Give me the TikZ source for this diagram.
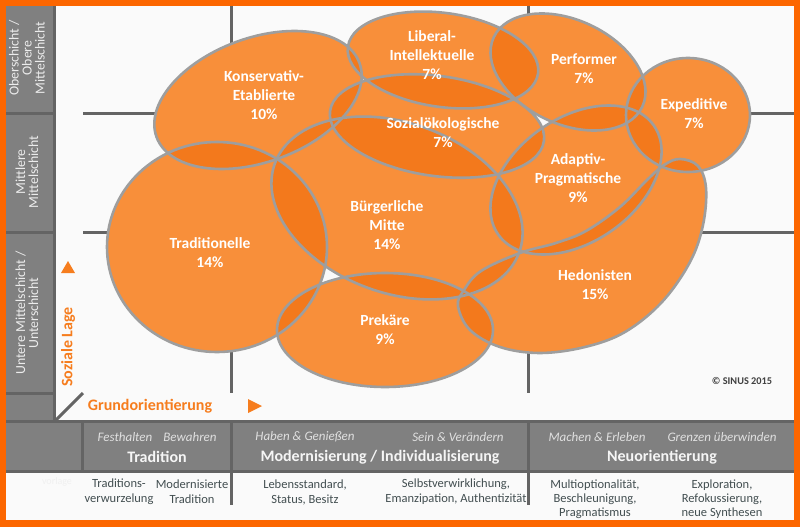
\documentclass[tikz,border=0pt]{standalone}
\usepackage{fontspec}
\setmainfont{Carlito}
\definecolor{frameor}{RGB}{252,102,0}
\definecolor{bgw}{RGB}{250,250,250}
\definecolor{colgray}{RGB}{128,128,128}
\definecolor{sepgray}{RGB}{100,100,100}
\definecolor{lightor}{RGB}{248,143,58}
\definecolor{darkor}{RGB}{243,121,28}
\definecolor{bordergray}{RGB}{158,158,158}
\definecolor{txtor}{RGB}{246,125,30}
\definecolor{striptxt}{RGB}{66,78,80}
\definecolor{colltxt}{RGB}{236,236,236}
\def\pKE{(258,100) ellipse [x radius=108pt, y radius=62pt, rotate=20]}
\def\pLI{(443,60) ellipse [x radius=96pt, y radius=47pt, rotate=-8]}
\def\pSO{(437,126) ellipse [x radius=108pt, y radius=50pt, rotate=-8]}
\def\pP{(568,72) ellipse [x radius=82pt, y radius=52pt, rotate=-25]}
\def\pE{(688,115) ellipse [x radius=62pt, y radius=57pt]}
\def\pAP{(576,180) ellipse [x radius=95pt, y radius=62pt, rotate=35]}
\def\pBM{(397,208) ellipse [x radius=130pt, y radius=85pt, rotate=-20]}
\def\pT{(217,247) ellipse [x radius=110pt, y radius=105pt]}
\def\pPk{(385,330) ellipse [x radius=108pt, y radius=57pt]}
\def\pH{plot[smooth cycle, tension=0.6] coordinates {(458,306) (464,290) (481,271) (520,253) (556,243) (586,231) (620,207) (647,180) (664,165) (680,159) (698,166) (706,188) (703,225) (690,262) (662,302) (625,332) (585,347) (540,353) (500,347) (470,330)}}
\newcommand\lens[2]{\begin{scope}\clip #1; \fill[darkor] #2;\end{scope}}
\begin{document}
\begin{tikzpicture}[x=1pt,y=-1pt,
  sep/.style={draw=sepgray,line width=3pt},
  gridl/.style={draw=sepgray,line width=3pt},
  lbl/.style={text=white,font=\bfseries\fontsize{15.5}{19}\selectfont,align=center,inner sep=0pt},
  colt/.style={text=colltxt,font=\fontsize{13.8}{13}\selectfont,align=center,inner sep=0pt,rotate=90},
  bandit/.style={text=black!12,font=\itshape\fontsize{13}{14}\selectfont,inner sep=0pt},
  bandtt/.style={text=white!96!black,font=\bfseries\fontsize{16}{17}\selectfont,inner sep=0pt},
  stript/.style={text=striptxt,font=\fontsize{12.5}{15}\selectfont,align=center,inner sep=0pt},
  stripth/.style={stript,font=\fontsize{12.5}{14.2}\selectfont},
  axist/.style={text=txtor,font=\bfseries\fontsize{16}{17}\selectfont,inner sep=0pt}]
\useasboundingbox (0,0) rectangle (800,527);
\fill[frameor] (0,0) rectangle (800,527);
\fill[bgw] (6,6) rectangle (794,520);
% left column and band
\fill[colgray] (6,6) rectangle (54,421);
\fill[colgray] (6,421) rectangle (794,471);
\draw[sep] (6,113) -- (54,113) (6,232) -- (54,232) (6,393) -- (54,393);
\draw[sep] (54,6) -- (54,421);
\draw[sep] (6,421) -- (794,421) (6,471) -- (794,471);
\draw[sep] (82,421) -- (82,471) (231,421) -- (231,505) (528,421) -- (528,505);
% grid
\draw[gridl] (231,6) -- (231,393) (528,6) -- (528,393) (83,113) -- (794,113) (83,232) -- (794,232);
\draw[gridl] (55,421) -- (83,393);
% milieus
\fill[lightor] \pKE; \fill[lightor] \pLI; \fill[lightor] \pSO; \fill[lightor] \pP;
\fill[lightor] \pE; \fill[lightor] \pAP; \fill[lightor] \pBM; \fill[lightor] \pT;
\fill[lightor] \pPk; \fill[lightor] \pH;
\lens{\pKE}{\pLI}\lens{\pKE}{\pSO}\lens{\pKE}{\pBM}\lens{\pKE}{\pT}
\lens{\pLI}{\pSO}\lens{\pLI}{\pP}\lens{\pSO}{\pP}\lens{\pSO}{\pAP}\lens{\pSO}{\pBM}
\lens{\pP}{\pE}\lens{\pP}{\pAP}\lens{\pE}{\pAP}\lens{\pE}{\pH}
\lens{\pAP}{\pBM}\lens{\pAP}{\pH}\lens{\pBM}{\pT}\lens{\pBM}{\pPk}\lens{\pBM}{\pH}
\lens{\pT}{\pPk}\lens{\pPk}{\pH}
\begin{scope}[draw=bordergray,line width=2.6pt]
\draw \pKE; \draw \pLI; \draw \pSO; \draw \pP; \draw \pE;
\draw \pAP; \draw \pBM; \draw \pT; \draw \pPk; \draw \pH;
\end{scope}
% milieu labels
\node[lbl] (ke) at (264,95) {Konservativ-\\Etablierte\\10\%};
\node[lbl] (li) at (432,55) {Liberal-\\Intellektuelle\\7\%};
\node[lbl] (pf) at (584,69) {Performer\\7\%};
\node[lbl] (ex) at (694,114) {Expeditive\\7\%};
\node[lbl] (so) at (443,133) {Sozialökologische\\7\%};
\node[lbl] (ap) at (578,178) {Adaptiv-\\Pragmatische\\9\%};
\node[lbl] (bm) at (387,225) {Bürgerliche\\Mitte\\14\%};
\node[lbl] (tr) at (210,253) {Traditionelle\\14\%};
\node[lbl] (pk) at (385,330) {Prekäre\\9\%};
\node[lbl] (he) at (595,285) {Hedonisten\\15\%};
\node[text=black!75,font=\bfseries\fontsize{10.3}{12}\selectfont,inner sep=0pt] (cr) at (742,381) {© SINUS 2015};
% left column texts
\node[colt] (c1) at (27,58) {Oberschicht /\\Obere\\Mittelschicht};
\node[colt] (c2) at (27,172) {Mittlere\\Mittelschicht};
\node[colt] (c3) at (27,313) {Untere Mittelschicht /\\Unterschicht};
% axes
\fill[txtor] (61,273) -- (75,273) -- (68,261) -- cycle;
\fill[txtor] (248,399) -- (248,413) -- (262,406) -- cycle;
\node[axist,rotate=90] (sl) at (68,347) {Soziale Lage};
\node[axist] (go) at (150,406) {Grundorientierung};
% band
\node[bandit] (b1) at (125,437) {Festhalten};
\node[bandit] (b2) at (190,437) {Bewahren};
\node[bandit] (b3) at (305,437) {Haben \& Genießen};
\node[bandit] (b4) at (458,437) {Sein \& Verändern};
\node[bandit] (b5) at (597,437) {Machen \& Erleben};
\node[bandit] (b6) at (722,437) {Grenzen überwinden};
\node[bandtt] (t1) at (157,457) {Tradition};
\node[bandtt] (t2) at (380,457) {Modernisierung / Individualisierung};
\node[bandtt] (t3) at (662,457) {Neuorientierung};
% strip
\node[text=black!6,font=\fontsize{10}{12}\selectfont,inner sep=0pt] (vl) at (57,482) {vorlage};
\node[stript] (s1) at (119,492) {Traditions-\\verwurzelung};
\node[stript] (s2) at (192,492) {Modernisierte\\Tradition};
\node[stript] (s3) at (305,492) {Lebensstandard,\\Status, Besitz};
\node[stript] (s4) at (456,492) {Selbstverwirklichung,\\Emanzipation, Authentizität};
\node[stripth] (s5) at (595,499) {Multioptionalität,\\Beschleunigung,\\Pragmatismus};
\node[stripth] (s6) at (722,499) {Exploration,\\Refokussierung,\\neue Synthesen};
\end{tikzpicture}
\end{document}
